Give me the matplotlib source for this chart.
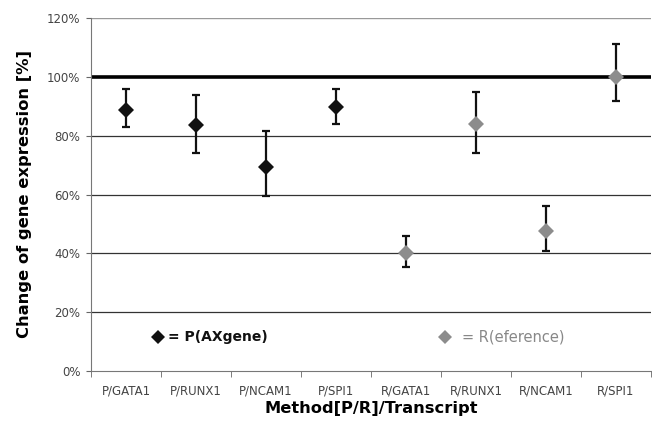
import matplotlib
matplotlib.use("Agg")
import matplotlib.pyplot as plt
import numpy as np

categories = ["P/GATA1", "P/RUNX1", "P/NCAM1", "P/SPI1",
              "R/GATA1", "R/RUNX1", "R/NCAM1", "R/SPI1"]
p_values = [88.8, 83.7, 69.4, 89.8]
p_upper = [95.9, 93.9, 81.6, 95.9]
p_lower = [83.0, 74.0, 59.5, 84.0]
r_values = [40.0, 84.0, 47.6, 100.0]
r_upper = [46.0, 95.0, 56.0, 111.0]
r_lower = [35.4, 74.0, 40.8, 91.8]
y_ticks = [0, 20, 40, 60, 80, 100, 120]

plt.rcParams['font.family'] = ['DejaVu Sans']

fig = plt.figure(figsize=(6.52, 4.30), dpi=100)
ax = fig.add_axes([91/652, 1-371/430, 560/652, (371-18)/430])

x = np.arange(len(categories))
xp = x[:4]
xr = x[4:]

for yt in y_ticks[1:]:
    if yt == 100:
        ax.axhline(yt, color='black', lw=2.6, zorder=1)
    elif yt == 120:
        ax.axhline(yt, color='#999999', lw=1.0, zorder=1)
    else:
        ax.axhline(yt, color='#333333', lw=0.9, zorder=1)

pv = np.array(p_values); rv = np.array(r_values)
ax.errorbar(xp, pv, yerr=[pv - np.array(p_lower), np.array(p_upper) - pv],
            fmt='none', ecolor='#111111', elinewidth=1.6, capsize=2.6, capthick=1.6, zorder=3)
ax.errorbar(xr, rv, yerr=[rv - np.array(r_lower), np.array(r_upper) - rv],
            fmt='none', ecolor='#111111', elinewidth=1.6, capsize=2.6, capthick=1.6, zorder=3)
ax.plot(xp, pv, 'D', color='#111111', ms=8.5, zorder=4, markeredgewidth=0)
ax.plot(xr, rv, 'D', color='#8c8c8c', ms=8.5, zorder=4, markeredgewidth=0)

ax.set_xlim(-0.5, len(categories) - 0.5)
ax.set_ylim(0, 120)
ax.set_yticks(y_ticks)
ax.set_yticklabels([f"{v}%" for v in y_ticks], fontsize=8.5, color='#444444')
ax.set_xticks(x)
ax.set_xticklabels(categories, fontsize=8.5, color='#444444')
ax.set_xticks(np.arange(-0.5, len(categories) + 0.5, 1), minor=True)
ax.tick_params(axis='x', which='major', length=0, pad=9.5)
ax.tick_params(axis='x', which='minor', length=4, color='#666666', direction='out')
ax.tick_params(axis='y', length=3.6, color='#666666', direction='out', pad=4)

for s in ['top', 'right']:
    ax.spines[s].set_visible(False)
ax.spines['left'].set_color('#777777')
ax.spines['bottom'].set_color('#777777')

ax.set_ylabel("Change of gene expression [%]", fontsize=11.8, fontweight='bold')
ax.yaxis.set_label_coords((25 - 91) / 560, 0.5)
ax.yaxis.label.set_va('center')
ax.set_xlabel("Method[P/R]/Transcript", fontsize=11.7, fontweight='bold')
ax.xaxis.set_label_coords(0.5, (371 - 408) / 353)
ax.xaxis.label.set_va('center')

# legend-like annotations
ax.plot([0.457], [11.5], 'D', color='#111111', ms=7, markeredgewidth=0, clip_on=False)
ax.text(0.6, 11.5, "= P(AXgene)", fontsize=10, fontweight='bold', va='center', color='#111111')
ax.plot([4.557], [11.5], 'D', color='#8c8c8c', ms=7, markeredgewidth=0, clip_on=False)
ax.text(4.8, 11.5, "= R(eference)", fontsize=10.5, va='center', color='#888888')

fig.savefig("out.png", dpi=100)
